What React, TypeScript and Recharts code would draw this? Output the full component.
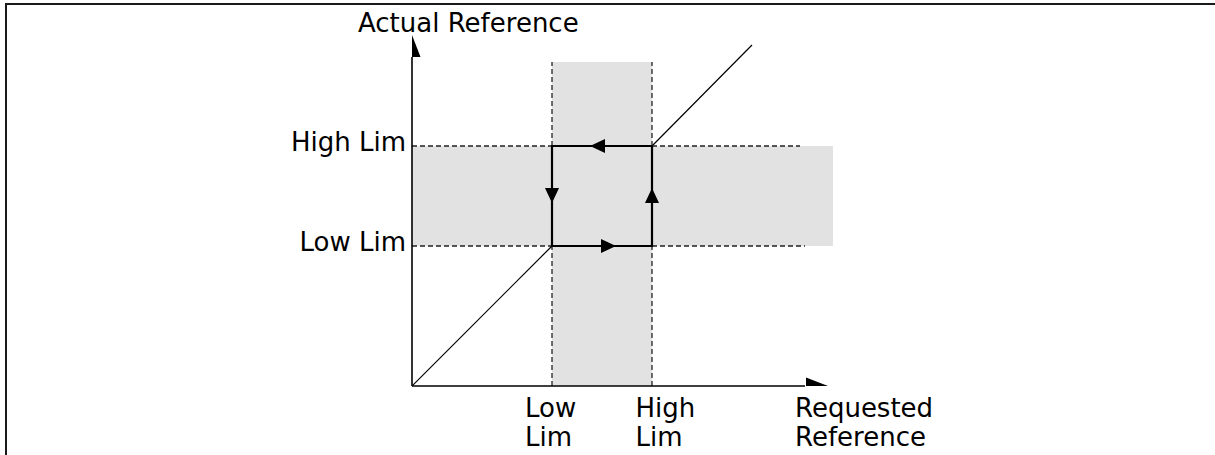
import React from 'react';
import {
  ComposedChart,
  Line,
  Scatter,
  XAxis,
  YAxis,
  ReferenceArea,
  ReferenceLine,
} from 'recharts';

// ---- data (units: requested / actual reference, arbitrary scale) ----
const LOW_LIM = 140;
const HIGH_LIM = 240;
const X_MAX = 421;
const Y_MAX = 351;
const BAND_TOP = 324;
const DASH_END_HIGH = 388;
const DASH_END_LOW = 393;
const X_AXIS_END = 393;
const Y_AXIS_END = 329;

const diagonalLower = [
  { x: 0, y: 0 },
  { x: LOW_LIM, y: LOW_LIM },
];
const diagonalUpper = [
  { x: HIGH_LIM, y: HIGH_LIM },
  { x: 340, y: 341 },
];
const hysteresisLoop = [
  { x: HIGH_LIM, y: HIGH_LIM },
  { x: LOW_LIM, y: HIGH_LIM },
  { x: LOW_LIM, y: LOW_LIM },
  { x: HIGH_LIM, y: LOW_LIM },
  { x: HIGH_LIM, y: HIGH_LIM },
];
const loopArrows = [
  { x: 178, y: HIGH_LIM, dir: 'left' },
  { x: LOW_LIM, y: 183, dir: 'down' },
  { x: 204, y: LOW_LIM, dir: 'right' },
  { x: HIGH_LIM, y: 198, dir: 'up' },
];
const axisArrows = [
  { x: 0, y: Y_MAX, dir: 'up' },
  { x: 416, y: 0, dir: 'right' },
];

const xTickValues = [LOW_LIM, HIGH_LIM, 383];
const xTickLabels = [
  ['Low', 'Lim'],
  ['High', 'Lim'],
  ['Requested', 'Reference'],
];
const yTickValues = [LOW_LIM, HIGH_LIM];
const yTickLabels = ['Low Lim', 'High Lim'];
const yAxisTitle = 'Actual Reference';

// ---- styles ----
const FONT = '"DejaVu Sans", Verdana, sans-serif';
const FONT_SIZE = 26;
const BAND = '#e2e2e2';
const DASH = '#222222';
const DASH_ARRAY = '5 3';
const xTickDx = [-27, -16.5, 0];

function arrowPoints(cx: number, cy: number, dir: string, len: number, half: number) {
  switch (dir) {
    case 'left':
      return `${cx},${cy} ${cx + len},${cy - half} ${cx + len},${cy + half}`;
    case 'right':
      return `${cx},${cy} ${cx - len},${cy - half} ${cx - len},${cy + half}`;
    case 'up':
      return `${cx},${cy} ${cx - half},${cy + len} ${cx + half},${cy + len}`;
    default:
      return `${cx},${cy} ${cx - half},${cy - len} ${cx + half},${cy - len}`;
  }
}

const LoopArrow = (p: any) => {
  const { cx, cy, payload } = p;
  if (cx == null || cy == null) return <g />;
  return <polygon points={arrowPoints(cx, cy, payload.dir, 15, 7)} fill="#000" />;
};

const AxisArrow = (p: any) => {
  const { cx, cy, payload } = p;
  if (cx == null || cy == null) return <g />;
  return <polygon points={arrowPoints(cx, cy, payload.dir, 22, 8.5)} fill="#000" />;
};

const XTick = (p: any) => {
  const { x, y, payload, index } = p;
  const i = xTickValues.indexOf(payload.value);
  const lines = xTickLabels[i >= 0 ? i : index];
  const dx = xTickDx[i >= 0 ? i : index];
  return (
    <text x={x + dx} y={y} fontFamily={FONT} fontSize={FONT_SIZE} fill="#000" textAnchor="start">
      <tspan x={x + dx} dy={31}>{lines[0]}</tspan>
      <tspan x={x + dx} dy={29}>{lines[1]}</tspan>
    </text>
  );
};

const YTick = (p: any) => {
  const { x, y, payload } = p;
  const i = yTickValues.indexOf(payload.value);
  return (
    <text x={x} y={y} dy={5} fontFamily={FONT} fontSize={FONT_SIZE} fill="#000" textAnchor="end">
      {yTickLabels[i]}
    </text>
  );
};

const YTitle = (p: any) => {
  const vb = p.viewBox || {};
  return (
    <text
      x={vb.x + vb.width - 54}
      y={vb.y - 3}
      fontFamily={FONT}
      fontSize={FONT_SIZE}
      fill="#000"
      textAnchor="start"
    >
      {yAxisTitle}
    </text>
  );
};

export default function App() {
  return (
    <div style={{ position: 'absolute', left: 0, top: 0, width: 1215, height: 455, background: '#fff' }}>
      <div
        style={{
          position: 'absolute',
          left: 5,
          top: 3,
          width: 1210,
          height: 452,
          borderTop: '2px solid #1a1a1a',
          borderLeft: '2px solid #1a1a1a',
          boxSizing: 'border-box',
        }}
      />
      <div style={{ position: 'absolute', left: 0, top: 0 }}>
        <ComposedChart width={1215} height={455} margin={{ top: 35, right: 382, bottom: 9, left: 312 }}>
          <XAxis
            type="number"
            dataKey="x"
            domain={[0, X_MAX]}
            allowDataOverflow
            ticks={xTickValues}
            interval={0}
            axisLine={false}
            tickLine={false}
            tickSize={0}
            tickMargin={0}
            height={60}
            tick={<XTick />}
          />
          <YAxis
            type="number"
            dataKey="y"
            domain={[0, Y_MAX]}
            allowDataOverflow
            ticks={yTickValues}
            interval={0}
            axisLine={false}
            tickLine={false}
            tickSize={0}
            tickMargin={6}
            width={100}
            tick={<YTick />}
            label={{ value: yAxisTitle, content: <YTitle /> }}
          />
          <ReferenceArea x1={LOW_LIM} x2={HIGH_LIM} y1={0} y2={BAND_TOP} fill={BAND} fillOpacity={1} stroke="none" ifOverflow="visible" />
          <ReferenceArea x1={0} x2={X_MAX} y1={LOW_LIM} y2={HIGH_LIM} fill={BAND} fillOpacity={1} stroke="none" ifOverflow="visible" />
          <ReferenceLine segment={[{ x: LOW_LIM, y: 0 }, { x: LOW_LIM, y: BAND_TOP }]} stroke={DASH} strokeWidth={1.3} strokeDasharray={DASH_ARRAY} ifOverflow="visible" />
          <ReferenceLine segment={[{ x: HIGH_LIM, y: 0 }, { x: HIGH_LIM, y: BAND_TOP }]} stroke={DASH} strokeWidth={1.3} strokeDasharray={DASH_ARRAY} ifOverflow="visible" />
          <ReferenceLine segment={[{ x: 0, y: HIGH_LIM }, { x: DASH_END_HIGH, y: HIGH_LIM }]} stroke={DASH} strokeWidth={1.3} strokeDasharray={DASH_ARRAY} ifOverflow="visible" />
          <ReferenceLine segment={[{ x: 0, y: LOW_LIM }, { x: DASH_END_LOW, y: LOW_LIM }]} stroke={DASH} strokeWidth={1.3} strokeDasharray={DASH_ARRAY} ifOverflow="visible" />
          <ReferenceLine segment={[{ x: 0, y: 0 }, { x: 0, y: Y_AXIS_END }]} stroke="#000" strokeWidth={1.6} ifOverflow="visible" />
          <ReferenceLine segment={[{ x: 0, y: 0 }, { x: X_AXIS_END, y: 0 }]} stroke="#000" strokeWidth={1.6} ifOverflow="visible" />
          <Line data={diagonalLower} dataKey="y" type="linear" stroke="#000" strokeWidth={1.2} dot={false} activeDot={false} isAnimationActive={false} />
          <Line data={diagonalUpper} dataKey="y" type="linear" stroke="#000" strokeWidth={1.2} dot={false} activeDot={false} isAnimationActive={false} />
          <Line data={hysteresisLoop} dataKey="y" type="linear" stroke="#000" strokeWidth={2.2} strokeLinejoin="miter" dot={false} activeDot={false} isAnimationActive={false} />
          <Scatter data={loopArrows} dataKey="y" shape={LoopArrow} isAnimationActive={false} />
          <Scatter data={axisArrows} dataKey="y" shape={AxisArrow} isAnimationActive={false} />
        </ComposedChart>
      </div>
    </div>
  );
}
